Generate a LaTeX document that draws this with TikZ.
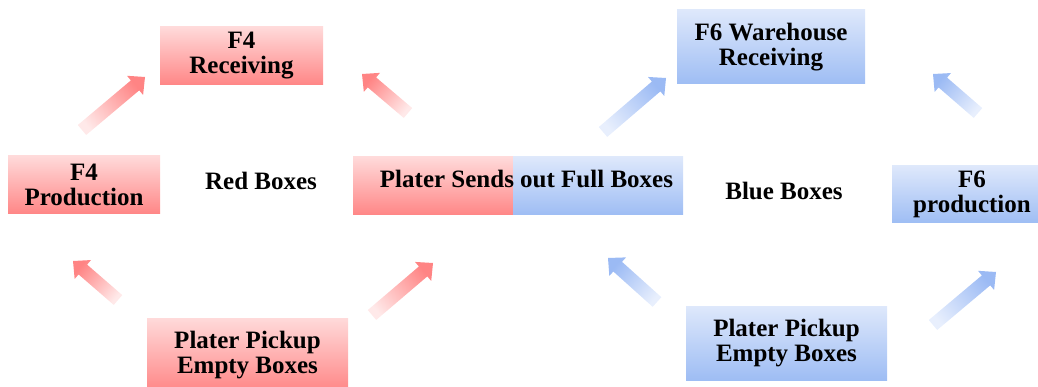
\documentclass[tikz,border=0pt]{standalone}
\usepackage{fontspec}
\setmainfont{Liberation Serif}
\usetikzlibrary{calc}
\definecolor{rtop}{HTML}{FFDADA}
\definecolor{rbot}{HTML}{FF8686}
\definecolor{btop}{HTML}{DEE8FB}
\definecolor{bbot}{HTML}{9EBDF4}
\definecolor{ratail}{HTML}{FFE9E9}
\definecolor{ratip}{HTML}{FF8484}
\definecolor{batail}{HTML}{E8EFFD}
\definecolor{batip}{HTML}{9BBAF4}
\tikzset{
  boxfont/.style={font=\fontsize{25}{25}\selectfont\bfseries},
  redbox/.style={rectangle, inner sep=0pt, top color=rtop, bottom color=rbot, align=center, boxfont},
  bluebox/.style={rectangle, inner sep=0pt, top color=btop, bottom color=bbot, align=center, boxfont},
  lbl/.style={anchor=base, inner sep=0pt, boxfont},
  redarrow/.style={top color=ratip, bottom color=ratail},
  bluearrow/.style={top color=batip, bottom color=batail}
}
\newcommand\blockarr[4]{%
  \coordinate (bb) at ($(#2)!13pt!(#1)$);
  \shade[#3, shading angle=#4] ($(#1)!6.5pt!90:(#2)$) -- ($(bb)!6.5pt!90:(#2)$) -- ($(bb)!12.5pt!90:(#2)$) -- (#2) -- ($(bb)!12.5pt!-90:(#2)$) -- ($(bb)!6.5pt!-90:(#2)$) -- ($(#1)!6.5pt!-90:(#2)$) -- cycle;}
\begin{document}
\begin{tikzpicture}[x=1pt,y=-1pt]
\useasboundingbox (0,0) rectangle (1038,387);
\clip (0,0) rectangle (1038,387);
% red boxes
\node[redbox, minimum width=163pt, minimum height=58pt] (r4) at (241.5,56) {F4\\Receiving};
\node[redbox, minimum width=152pt, minimum height=58pt] (p4) at (84,185) {F4\\Production};
\node[redbox, minimum width=201pt, minimum height=74pt] (rpick) at (247.5,355) {Plater Pickup\\Empty Boxes};
\node[redbox, minimum width=160pt, minimum height=58pt] (sendL) at (433,186) {};
\node[bluebox, minimum width=170pt, minimum height=58pt] (sendR) at (598,186) {};
\node[lbl] (send) at (526.5,188) {Plater Sends out Full Boxes};
% blue boxes
\node[bluebox, minimum width=188pt, minimum height=74pt] (w6) at (771,47) {F6 Warehouse\\Receiving};
\node[bluebox, minimum width=160pt, minimum height=57pt] (p6) at (972,194.5) {F6\\production};
\node[bluebox, minimum width=201pt, minimum height=74pt] (bpick) at (786.5,343) {Plater Pickup\\Empty Boxes};
% labels
\node[lbl] (redlbl) at (261,190) {Red Boxes};
\node[lbl] (bluelbl) at (784,200) {Blue Boxes};
% arrow coordinates
\coordinate (t1) at (82,130);  \coordinate (h1) at (145,77);
\coordinate (t2) at (408,113); \coordinate (h2) at (362,74);
\coordinate (t3) at (118,300); \coordinate (h3) at (73,261);
\coordinate (t4) at (372,315); \coordinate (h4) at (433,263);
\coordinate (t5) at (603,132); \coordinate (h5) at (666,78);
\coordinate (t6) at (978,113); \coordinate (h6) at (933,74);
\coordinate (t7) at (657,302); \coordinate (h7) at (608,258);
\coordinate (t8) at (933,325); \coordinate (h8) at (996,272);
\blockarr{t1}{h1}{redarrow}{-50}
\blockarr{t2}{h2}{redarrow}{50}
\blockarr{t3}{h3}{redarrow}{50}
\blockarr{t4}{h4}{redarrow}{-50}
\blockarr{t5}{h5}{bluearrow}{-50}
\blockarr{t6}{h6}{bluearrow}{50}
\blockarr{t7}{h7}{bluearrow}{50}
\blockarr{t8}{h8}{bluearrow}{-50}
\end{tikzpicture}
\end{document}
